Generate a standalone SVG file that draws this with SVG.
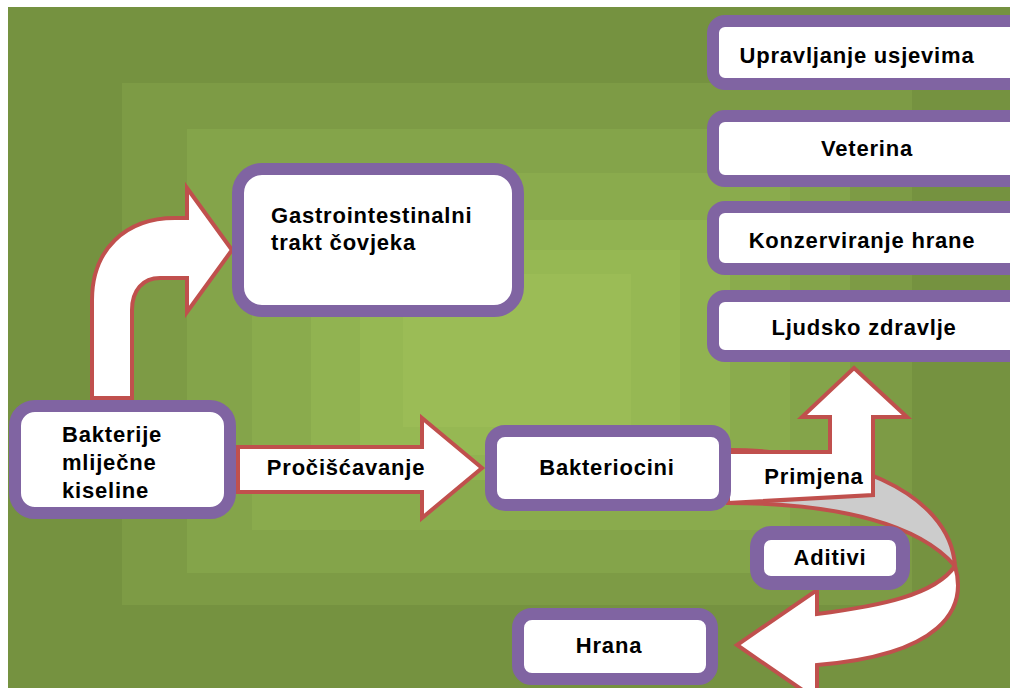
<svg xmlns="http://www.w3.org/2000/svg" width="1010" height="688" viewBox="0 0 1010 688">
<style>
.box{fill:#ffffff;stroke:#8064a2;stroke-width:12}
.arr{fill:#ffffff;stroke:#c0504d;stroke-width:4;stroke-linejoin:miter}
.t{font-family:"Liberation Sans",Arial,sans-serif;font-weight:bold;font-size:22px;letter-spacing:0.8px;fill:#000000}
.c{text-anchor:middle}
</style>
<rect x="0" y="0" width="1010" height="688" fill="#ffffff"/>
<g id="background">
<rect x="8" y="7" width="1002" height="681" fill="#759240"/>
<rect x="122" y="83" width="790" height="522" fill="#7d9b45"/>
<rect x="187" y="129" width="663" height="444" fill="#84a44a"/>
<rect x="252" y="173" width="538" height="357" fill="#8aab4d"/>
<rect x="311" y="220" width="419" height="260" fill="#91b351"/>
<rect x="360" y="250" width="320" height="205" fill="#96b853"/>
<rect x="403" y="274" width="228" height="153" fill="#9bbc56"/>
</g>
<g id="connectors">
<path class="arr" d="M 92 398 L 92 300 C 92 250 125 218 175 218 L 187 218 L 187 188 L 232 250 L 187 312 L 187 278 L 160 278 C 143 278 132 290 132 310 L 132 398 Z"/>
<path class="arr" d="M 238 447 L 422 447 L 422 418 L 482 468 L 422 518 L 422 492 L 238 492 Z"/>
<path class="arr" style="fill:#cccccc" d="M 728 450 C 840 450 950 490 955 566 C 920 525 840 503 728 503 Z"/>
<path class="arr" d="M 955 566 C 968 610 940 655 817 665 L 817 700 L 737 645 L 817 590 L 817 614 C 880 606 935 595 955 566 Z"/>
<path class="arr" d="M 728 452 L 830 452 L 830 417 L 802 417 L 854 368 L 907 417 L 873 417 L 873 495 L 728 503 Z"/>
<text class="t c" x="346" y="475">Pročišćavanje</text>
<text class="t c" x="814" y="484">Primjena</text>
</g>
<g id="node-upravljanje">
<rect class="box" x="713" y="21" width="320" height="63" rx="12"/>
<text class="t c" x="857" y="63">Upravljanje usjevima</text>
</g>
<g id="node-veterina">
<rect class="box" x="713" y="116" width="320" height="65" rx="12"/>
<text class="t c" x="867" y="156">Veterina</text>
</g>
<g id="node-konzerviranje">
<rect class="box" x="713" y="207" width="320" height="62" rx="12"/>
<text class="t c" x="862" y="248">Konzerviranje hrane</text>
</g>
<g id="node-ljudsko">
<rect class="box" x="713" y="296" width="320" height="60" rx="12"/>
<text class="t c" x="864" y="335">Ljudsko zdravlje</text>
</g>
<g id="node-gastro">
<rect class="box" x="238" y="169" width="280" height="142" rx="24"/>
<text class="t" x="271" y="223">Gastrointestinalni</text>
<text class="t" x="271" y="250">trakt čovjeka</text>
</g>
<g id="node-bakterije">
<rect class="box" x="15" y="406" width="215" height="107" rx="20"/>
<text class="t" x="62" y="442">Bakterije</text>
<text class="t" x="62" y="470">mliječne</text>
<text class="t" x="62" y="498">kiseline</text>
</g>
<g id="node-bakteriocini">
<rect class="box" x="491" y="431" width="234" height="74" rx="14"/>
<text class="t c" x="607" y="475">Bakteriocini</text>
</g>
<g id="node-aditivi">
<rect class="box" style="stroke-width:14" x="757" y="533" width="146" height="50" rx="14"/>
<text class="t c" x="830" y="565">Aditivi</text>
</g>
<g id="node-hrana">
<rect class="box" x="518" y="614" width="194" height="65" rx="14"/>
<text class="t c" x="609" y="653">Hrana</text>
</g>
</svg>
